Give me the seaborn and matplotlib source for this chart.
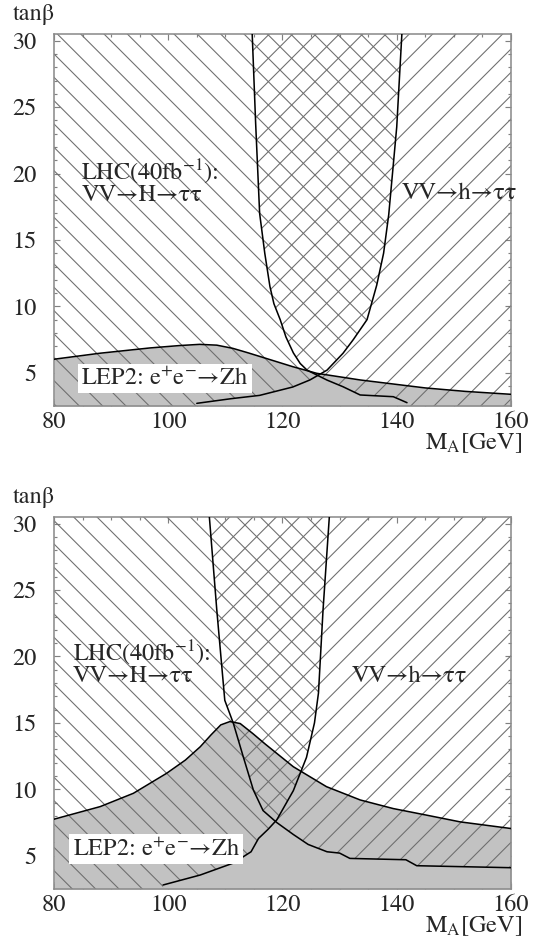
import numpy as np
import matplotlib
matplotlib.use('Agg')
import matplotlib.pyplot as plt
import seaborn as sns

# values: M_A in GeV, tan(beta)
# upper panel
top_H_mass = [105.0, 111.0, 116.0, 121.8, 124.8, 127.8, 130.6, 132.4, 134.8, 136.5, 137.7, 138.6, 140.0, 140.9]
top_H_tanb = [2.7, 3.05, 3.3, 3.93, 4.46, 5.2, 6.47, 7.5, 9.0, 11.6, 14.0, 16.9, 23.5, 30.5]
top_h_mass = [114.7, 115.3, 116.0, 116.9, 117.8, 118.5, 119.6, 120.6, 121.9, 123.1, 124.3, 127.8, 130.6, 133.6, 139.4, 141.8]
top_h_tanb = [30.5, 23.8, 17.0, 14.0, 11.5, 10.2, 9.0, 7.7, 6.5, 5.7, 5.2, 4.45, 3.95, 3.33, 3.2, 2.75]
top_lep_mass = [80.0, 88.0, 96.8, 102.0, 105.5, 108.5, 111.3, 114.0, 117.0, 121.8, 126.0, 133.6, 145.0, 152.0, 160.0]
top_lep_tanb = [6.02, 6.47, 6.87, 7.05, 7.14, 7.08, 6.84, 6.5, 6.1, 5.46, 4.96, 4.46, 3.86, 3.6, 3.38]

# lower panel
bot_H_mass = [99.1, 105.6, 111.4, 114.5, 115.8, 117.5, 119.0, 121.9, 124.2, 125.6, 126.3, 127.1, 128.2]
bot_H_tanb = [2.8, 3.55, 4.45, 5.3, 6.3, 7.0, 7.7, 9.9, 12.4, 15.0, 17.25, 23.5, 30.5]
bot_h_mass = [107.2, 108.5, 109.9, 111.4, 113.1, 114.9, 116.6, 119.0, 121.9, 124.5, 127.8, 130.0, 131.8, 141.6, 143.5, 160.0]
bot_h_tanb = [30.5, 23.5, 16.7, 14.97, 12.5, 9.95, 8.4, 7.5, 6.6, 5.85, 5.3, 5.2, 4.8, 4.7, 4.25, 4.1]
bot_lep_mass = [80.0, 88.1, 93.9, 99.7, 103.0, 105.6, 107.5, 109.2, 110.8, 112.6, 114.8, 117.0, 121.9, 127.7, 133.6, 139.4, 145.3, 151.1, 160.0]
bot_lep_tanb = [7.75, 8.7, 9.7, 11.2, 12.2, 13.2, 14.1, 14.85, 15.1, 14.95, 14.2, 13.4, 11.7, 10.2, 9.2, 8.55, 8.05, 7.55, 7.05]

# text label positions (data coords) per panel
top_text = {'lhc': (84.8, 19.4), 'h': (140.9, 18.5), 'lep': (84.8, 4.57)}
bot_text = {'lhc': (83.3, 19.55), 'h': (132.1, 18.5), 'lep': (83.3, 5.5)}

sns.set_style('ticks')
plt.rcParams['font.family'] = ['STIXGeneral', 'Liberation Serif', 'DejaVu Serif']
plt.rcParams['mathtext.fontset'] = 'stix'
plt.rcParams['hatch.linewidth'] = 0.55
plt.rcParams['hatch.color'] = '#6e6e6e'

DPI = 140
fig = plt.figure(figsize=(535 / DPI, 942 / DPI), dpi=DPI)
ax_top = fig.add_axes([0.1009, 0.5690, 0.8542, 0.3949])
ax_bot = fig.add_axes([0.1009, 0.0563, 0.8542, 0.3949])

XMIN, XMAX, YMIN, YMAX = 80, 160, 2.5, 30.5
FS = 12.5
ANN = 12.5


def draw_panel(ax, H_m, H_t, h_m, h_t, lep_m, lep_t, txt):
    t = np.linspace(YMIN, YMAX, 800)
    m = np.linspace(XMIN, XMAX, 800)
    H_edge = np.interp(t, H_t, H_m)
    h_edge = np.interp(t, h_t[::-1], h_m[::-1])
    lep_edge = np.interp(m, lep_m, lep_t)

    # LEP2 excluded region
    ax.fill_between(m, YMIN, lep_edge, color='#c2c2c2', lw=0, zorder=1)
    # H -> tautau reach (left of curve) and h -> tautau reach (right of curve)
    ax.fill_betweenx(t, XMIN, H_edge, facecolor='none', edgecolor='#6e6e6e',
                     hatch='\\\\', lw=0, zorder=2)
    ax.fill_betweenx(t, h_edge, XMAX, facecolor='none', edgecolor='#6e6e6e',
                     hatch='//', lw=0, zorder=2)

    sns.lineplot(x=lep_m, y=lep_t, sort=False, estimator=None, color='black', lw=0.8, ax=ax, zorder=3)
    sns.lineplot(x=H_m, y=H_t, sort=False, estimator=None, color='black', lw=0.8, ax=ax, zorder=3)
    sns.lineplot(x=h_m, y=h_t, sort=False, estimator=None, color='black', lw=0.8, ax=ax, zorder=3)

    ax.text(*txt['lhc'], 'LHC(40fb$^{-1}$):\nVV→H→ττ', fontsize=ANN, va='center', ha='left',
            linespacing=0.95, zorder=4)
    ax.text(*txt['h'], 'VV→h→ττ', fontsize=ANN, va='center', ha='left', zorder=4)
    ax.text(*txt['lep'], 'LEP2: e$^{+}$e$^{-}$→Zh', fontsize=ANN, va='center', ha='left', zorder=4,
            bbox=dict(boxstyle='square,pad=0.15', facecolor='white', edgecolor='none'))

    ax.set_xlim(XMIN, XMAX)
    ax.set_ylim(YMIN, YMAX)
    ax.set_xticks([80, 100, 120, 140, 160])
    ax.set_xticks(np.arange(80, 161, 5), minor=True)
    ax.set_yticks([5, 10, 15, 20, 25, 30])
    ax.set_yticks(np.arange(3, 31, 1), minor=True)
    ax.tick_params(which='both', direction='in', top=True, right=True,
                   color='#808080', width=0.6, labelsize=FS)
    ax.tick_params(which='major', length=3.2)
    ax.tick_params(which='minor', length=1.6)
    ax.tick_params(axis='y', pad=9)
    ax.tick_params(axis='x', pad=3)
    for s in ax.spines.values():
        s.set_color('#8a8a8a')
        s.set_linewidth(0.8)
    ax.set_xlabel('')
    ax.set_ylabel('')
    ax.text(-0.0897, 1.037, 'tanβ', transform=ax.transAxes, fontsize=FS, ha='left', va='baseline')
    ax.text(1.024, -0.117, r'M$_{\mathrm{A}}$[GeV]', transform=ax.transAxes, fontsize=FS,
            ha='right', va='baseline')


draw_panel(ax_top, top_H_mass, top_H_tanb, top_h_mass, top_h_tanb, top_lep_mass, top_lep_tanb, top_text)
draw_panel(ax_bot, bot_H_mass, bot_H_tanb, bot_h_mass, bot_h_tanb, bot_lep_mass, bot_lep_tanb, bot_text)

fig.savefig('out.png', dpi=DPI)
